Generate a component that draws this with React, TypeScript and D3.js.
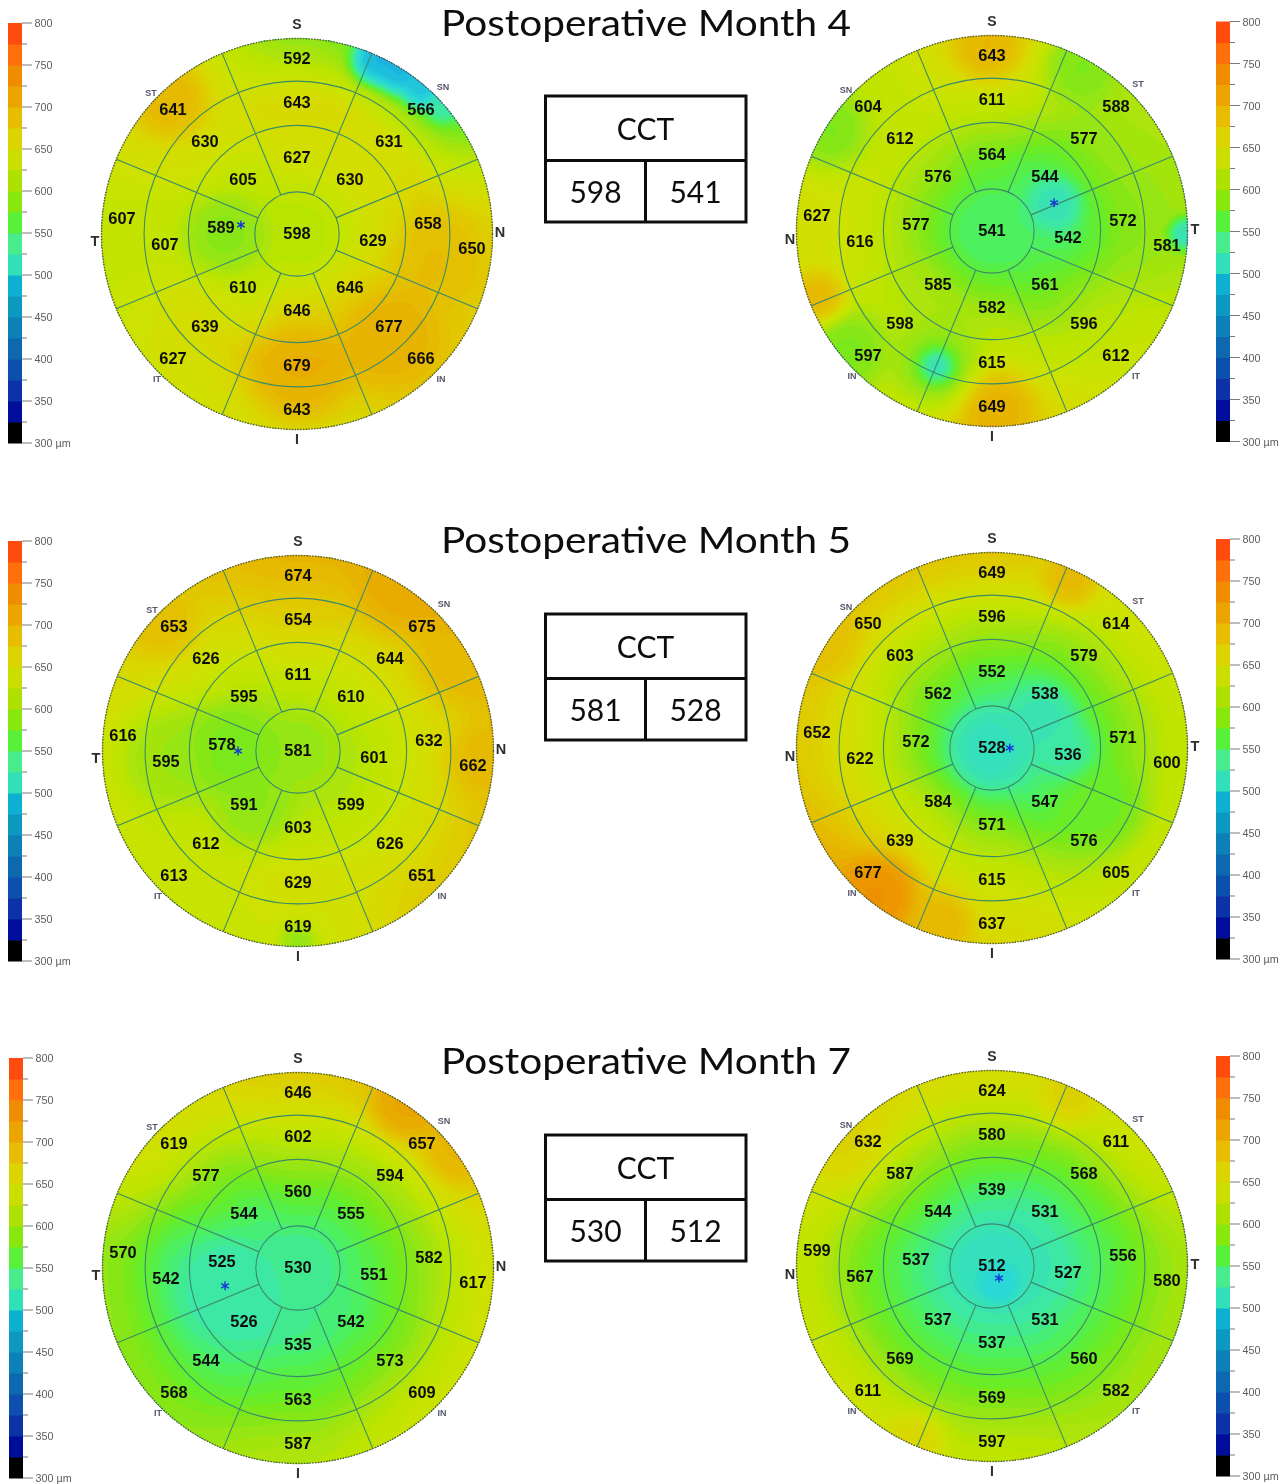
import React, { useEffect, useRef } from 'react';
import * as d3 from 'd3';

// thickness bands of the colour bar, in um
const bandStarts = d3.range(300, 800, 25);
const bandColors = [
  '#000000', '#00109a', '#0730a8', '#0850ac', '#0868b0', '#0880b8', '#0898c0', '#08b0d0', '#30e0b8', '#48ec8c',
  '#58f038', '#88e810', '#aee000', '#cade00', '#dcd400', '#e8bc00', '#eca400', '#f08c00', '#ff7010', '#ff4c10',
];
const legendTicks = d3.range(300, 801, 50);
const legendMinorTicks = d3.range(325, 800, 50);

// colours the maps themselves show for a given thickness
const mapStops = [300, 400, 470, 500, 527, 540, 556, 570, 585, 600, 620, 640, 660, 680, 700, 725, 760, 800];
const mapColors = [
  '#000000', '#0868b0', '#18a8e0', '#28d8d8', '#40e8a0', '#48f068', '#60ee30', '#80e818', '#a4e410', '#bce400',
  '#cce200', '#d8da00', '#e0ca00', '#e6b400', '#ec9c00', '#f08000', '#ff7010', '#ff4c10',
];
const mapLevels = d3.range(300, 800, 6);

// sector order, clockwise from the top of the map
const sectorAngles = d3.range(0, 360, 45);
const ringRadiiMm = [0.97, 2.5, 3.52, 4.5];
const profileRadiiMm = [0, 0.6, 1.75, 3.02, 4.03, 4.6];

const titles = ['Postoperative Month 4', 'Postoperative Month 5', 'Postoperative Month 7'];
const leftEyeCorners = ['ST', 'SN', 'IN', 'IT'];
const rightEyeCorners = ['SN', 'ST', 'IT', 'IN'];

// centre value, then the three rings clockwise from the top
const m4LeftCentre = 598;
const m4LeftRings = [
  [627, 630, 629, 646, 646, 610, 589, 605],
  [643, 631, 658, 677, 679, 639, 607, 630],
  [592, 566, 650, 666, 643, 627, 607, 641],
];
const m4RightCentre = 541;
const m4RightRings = [
  [564, 544, 542, 561, 582, 585, 577, 576],
  [611, 577, 572, 596, 615, 598, 616, 612],
  [643, 588, 581, 612, 649, 597, 627, 604],
];
const m5LeftCentre = 581;
const m5LeftRings = [
  [611, 610, 601, 599, 603, 591, 578, 595],
  [654, 644, 632, 626, 629, 612, 595, 626],
  [674, 675, 662, 651, 619, 613, 616, 653],
];
const m5RightCentre = 528;
const m5RightRings = [
  [552, 538, 536, 547, 571, 584, 572, 562],
  [596, 579, 571, 576, 615, 639, 622, 603],
  [649, 614, 600, 605, 637, 677, 652, 650],
];
const m7LeftCentre = 530;
const m7LeftRings = [
  [560, 555, 551, 542, 535, 526, 525, 544],
  [602, 594, 582, 573, 563, 544, 542, 577],
  [646, 657, 617, 609, 587, 568, 570, 619],
];
const m7RightCentre = 512;
const m7RightRings = [
  [539, 531, 527, 531, 537, 537, 537, 544],
  [580, 568, 556, 560, 569, 569, 567, 587],
  [624, 611, 580, 582, 597, 611, 599, 632],
];

// local thick / thin spots seen on each map: x mm, y mm, um, spread mm
const m4LeftSpots = [
  [1.84, -4.0, 470, 0.25], [2.37, -3.78, 470, 0.25], [2.9, -3.38, 480, 0.22], [3.36, -3.0, 520, 0.2],
  [-2.93, -3.09, 682, 0.4], [0.07, 3.25, 686, 0.5], [2.14, 2.44, 684, 0.5], [3.3, 0.6, 674, 0.5],
  [-1.66, 0.02, 572, 0.4],
];
const m4RightSpots = [
  [1.45, -0.62, 515, 0.27], [-1.27, 3.11, 450, 0.22], [-1.27, 3.11, 570, 0.45], [4.45, 0.07, 510, 0.17],
  [-0.12, -4.22, 682, 0.35], [0.12, 4.08, 686, 0.4], [-4.03, 1.54, 684, 0.3], [-3.34, 2.76, 565, 0.4],
  [-3.73, -2.3, 565, 0.4], [2.03, -3.85, 565, 0.4],
];
const m5LeftSpots = [
  [2.35, -3.71, 688, 0.45], [4.19, 0.21, 676, 0.35], [3.6, -2, 676, 0.4], [-3.1, -2.9, 672, 0.35], [0, 4.4, 575, 0.2],
  [-1.6, 0, 566, 0.5], [-1.0, 1.3, 574, 0.4], [-3.0, 0.2, 580, 0.5],
];
const m5RightSpots = [
  [0, 0, 512, 0.4], [1.17, -0.65, 518, 0.35], [1.73, 0.12, 525, 0.3], [-2.58, 3.34, 712, 0.4],
  [-1.2, 4.03, 680, 0.35], [-3.96, -2.49, 672, 0.4], [1.8, -3.87, 680, 0.3], [2.49, 1.34, 560, 0.45],
];
const m7LeftSpots = [[2.46, -3.73, 694, 0.35], [3.69, -2.72, 680, 0.35], [-1.68, 0.6, 522, 0.5]];
const m7RightSpots = [[0.16, 0.41, 498, 0.2], [1.8, -3.9, 655, 0.3], [-1.8, 4.08, 650, 0.3], [-3.4, -2.9, 650, 0.4]];

const panels = [
  { row: 0, eye: 'left', cx: 297, cy: 234, barX: 8, barY: 23, centre: m4LeftCentre, rings: m4LeftRings, spots: m4LeftSpots, thinnest: [-1.29, -0.21] },
  { row: 0, eye: 'right', cx: 992, cy: 231, barX: 1216, barY: 21.5, centre: m4RightCentre, rings: m4RightRings, spots: m4RightSpots, thinnest: [1.43, -0.65] },
  { row: 1, eye: 'left', cx: 298, cy: 751, barX: 8, barY: 541, centre: m5LeftCentre, rings: m5LeftRings, spots: m5LeftSpots, thinnest: [-1.38, 0] },
  { row: 1, eye: 'right', cx: 992, cy: 748, barX: 1216, barY: 539, centre: m5RightCentre, rings: m5RightRings, spots: m5RightSpots, thinnest: [0.41, 0] },
  { row: 2, eye: 'left', cx: 298, cy: 1268, barX: 9, barY: 1058, centre: m7LeftCentre, rings: m7LeftRings, spots: m7LeftSpots, thinnest: [-1.68, 0.41] },
  { row: 2, eye: 'right', cx: 992, cy: 1266, barX: 1216, barY: 1056, centre: m7RightCentre, rings: m7RightRings, spots: m7RightSpots, thinnest: [0.16, 0.28] },
];

// the numbers on the scan printout are not quite on the sector middles
const labelOffsets = [
  [[0, -77], [53, -55], [76, 6], [53, 53], [0, 76], [-54, 53], [-76, -7], [-54, -55]],
  [[0, -132], [92, -93], [131, -11], [92, 92], [0, 131], [-92, 92], [-132, 10], [-92, -93]],
  [[0, -176], [124, -125], [175, 14], [124, 124], [0, 175], [-124, 124], [-175, -16], [-124, -125]],
];

const tables = [
  { top: 96, values: [598, 541], titleY: 36 },
  { top: 614, values: [581, 528], titleY: 553 },
  { top: 1135, values: [530, 512], titleY: 1074 },
];

const mm = d3.scaleLinear().domain([-4.5, 4.5]).range([-195.5, 195.5]);
const bandIndex = d3.scaleThreshold<number, number>().domain(bandStarts.slice(1)).range(d3.range(bandStarts.length));
const legendY = d3.scaleLinear().domain([800, 300]).range([0, 420]);
const mapColor = d3.scaleLinear<string>().domain(mapStops).range(mapColors).clamp(true);

const polar = (angle: number, r: number) => {
  const a = (angle * Math.PI) / 180;
  return [r * Math.sin(a), -r * Math.cos(a)];
};

// value around a ring at some angle, eased between sector middles
const aroundRing = (ring: number[], deg: number) => {
  const t = (((deg % 360) + 360) % 360) / 45;
  const i = Math.floor(t) % 8;
  const f = t - Math.floor(t);
  const e = (1 - Math.cos(f * Math.PI)) / 2;
  return ring[i] * (1 - e) + ring[(i + 1) % 8] * e;
};

// thickness surface between the measured sectors, drawn as filled levels like the OCT software
const buildField = (panel: any, n: number, step: number) => {
  const field = new Float64Array(n * n);
  const [r1, r2, r3] = panel.rings;
  for (let row = 0; row < n; row++) {
    for (let col = 0; col < n; col++) {
      const x = ((col + 0.5) * step - (n * step) / 2) / 43.44;
      const y = ((row + 0.5) * step - (n * step) / 2) / 43.44;
      const r = Math.hypot(x, y);
      const deg = (Math.atan2(x, -y) * 180) / Math.PI;
      const a1 = aroundRing(r1, deg);
      const a2 = aroundRing(r2, deg);
      const a3 = aroundRing(r3, deg);
      const rimValue = a3 + (a3 - a2) * 0.35;
      const profile = d3.scaleLinear()
        .domain(profileRadiiMm)
        .range([panel.centre, panel.centre, a1, a2, a3, rimValue])
        .clamp(true);
      let sum = profile(r);
      let weight = 1;
      panel.spots.forEach(([px, py, v, s]: number[]) => {
        const d2 = (x - px) ** 2 + (y - py) ** 2;
        const w = 8 * Math.exp(-d2 / (2 * s * s));
        sum += w * v;
        weight += w;
      });
      field[row * n + col] = sum / weight;
    }
  }
  return field;
};

const drawLegend = (g: any, panel: any) => {
  const leg = g.append('g').attr('transform', `translate(${panel.barX}, ${panel.barY})`);
  const tickInk = '#7a7a7a';
  leg.selectAll('rect').data(bandStarts).enter().append('rect')
    .attr('x', 0)
    .attr('width', 14)
    .attr('y', (d: number) => legendY(d + 25))
    .attr('height', (d: number) => legendY(d) - legendY(d + 25) + 0.5)
    .attr('fill', (d: number) => bandColors[bandIndex(d)]);
  leg.selectAll('line.major').data(legendTicks).enter().append('line')
    .attr('class', 'major')
    .attr('x1', 14).attr('x2', 24)
    .attr('y1', (d: number) => legendY(d)).attr('y2', (d: number) => legendY(d))
    .attr('stroke', tickInk);
  leg.selectAll('line.minor').data(legendMinorTicks).enter().append('line')
    .attr('class', 'minor')
    .attr('x1', 14).attr('x2', 19)
    .attr('y1', (d: number) => legendY(d)).attr('y2', (d: number) => legendY(d))
    .attr('stroke', tickInk);
  leg.selectAll('text').data(legendTicks).enter().append('text')
    .attr('x', 26.5)
    .attr('y', (d: number) => legendY(d) + 4)
    .attr('font-size', 10.8)
    .attr('fill', '#5c5c5c')
    .text((d: number) => (d === 300 ? '300 µm' : d));
};

const drawMap = (g: any, panel: any, idx: number) => {
  const map = g.append('g').attr('transform', `translate(${panel.cx}, ${panel.cy})`);
  const rim = mm(ringRadiiMm[3]);
  const clipId = `rim-${idx}`;
  map.append('clipPath').attr('id', clipId).append('circle').attr('r', rim);

  const step = 2;
  const n = 200;
  const field = buildField(panel, n, step);
  const contours = d3.contours().size([n, n]).thresholds(mapLevels)(field as any);
  const path = d3.geoPath(d3.geoIdentity().scale(step).translate([(-n * step) / 2, (-n * step) / 2]) as any);
  map.append('g')
    .attr('clip-path', `url(#${clipId})`)
    .selectAll('path')
    .data(contours)
    .enter()
    .append('path')
    .attr('d', path as any)
    .attr('fill', (d: any) => mapColor(d.value + 3));

  // sector grid
  const gridInk = '#3b8a6c';
  ringRadiiMm.slice(0, 3).forEach((r) => {
    map.append('circle').attr('r', mm(r)).attr('fill', 'none').attr('stroke', gridInk).attr('stroke-width', 1.1);
  });
  sectorAngles.forEach((a) => {
    const [x1, y1] = polar(a + 22.5, mm(ringRadiiMm[0]));
    const [x2, y2] = polar(a + 22.5, rim);
    map.append('line').attr('x1', x1).attr('y1', y1).attr('x2', x2).attr('y2', y2)
      .attr('stroke', gridInk).attr('stroke-width', 1.1);
  });
  map.append('circle').attr('r', rim).attr('fill', 'none')
    .attr('stroke', '#555').attr('stroke-width', 1.4).attr('stroke-dasharray', '1.4 1.4');

  // thinnest point marker
  map.append('path')
    .attr('d', d3.symbol().type(d3.symbolAsterisk).size(55)() as string)
    .attr('transform', `translate(${mm(panel.thinnest[0])}, ${mm(panel.thinnest[1])})`)
    .attr('fill', 'none').attr('stroke', '#1636d8').attr('stroke-width', 1.4);

  const number = (x: number, y: number, v: number) => map.append('text')
    .attr('x', x).attr('y', y + 6)
    .attr('text-anchor', 'middle')
    .attr('font-size', 16.4)
    .attr('font-weight', 700)
    .attr('fill', '#111')
    .text(v);
  number(0, -1, panel.centre);
  panel.rings.forEach((ring: number[], i: number) => {
    ring.forEach((v, j) => number(labelOffsets[i][j][0], labelOffsets[i][j][1], v));
  });

  // orientation letters
  const left = panel.eye === 'left';
  const letter = (x: number, y: number, s: string, size: number, ink: string) => map.append('text')
    .attr('x', x).attr('y', y + size * 0.36)
    .attr('text-anchor', 'middle')
    .attr('font-size', size)
    .attr('font-weight', 700)
    .attr('fill', ink)
    .text(s);
  letter(0, -210, 'S', 14, '#2e2e2e');
  letter(0, 205, 'I', 14, '#2e2e2e');
  letter(-202, left ? 7 : 8, left ? 'T' : 'N', 14.5, '#2e2e2e');
  letter(203, -2, left ? 'N' : 'T', 14.5, '#2e2e2e');
  const corners = left ? leftEyeCorners : rightEyeCorners;
  letter(-146, -141, corners[0], 9, '#55556a');
  letter(146, -147, corners[1], 9, '#55556a');
  letter(144, 145, corners[2], 9, '#55556a');
  letter(-140, 145, corners[3], 9, '#55556a');
};

const drawTable = (g: any, table: any, i: number) => {
  const t = g.append('g').attr('transform', `translate(545.5, ${table.top})`);
  g.append('text')
    .attr('x', 646).attr('y', table.titleY)
    .attr('text-anchor', 'middle')
    .attr('font-family', 'Lato, sans-serif')
    .attr('font-size', 36)
    .attr('fill', '#111')
    .attr('textLength', 410)
    .attr('lengthAdjust', 'spacingAndGlyphs')
    .text(titles[i]);
  t.append('rect').attr('width', 200.5).attr('height', 126).attr('fill', '#fff').attr('stroke', '#111').attr('stroke-width', 3);
  t.append('line').attr('x1', 0).attr('x2', 200.5).attr('y1', 64.5).attr('y2', 64.5).attr('stroke', '#111').attr('stroke-width', 3);
  t.append('line').attr('x1', 100).attr('x2', 100).attr('y1', 64.5).attr('y2', 126).attr('stroke', '#111').attr('stroke-width', 3);
  const cell = (x: number, y: number, s: string | number) => t.append('text')
    .attr('x', x).attr('y', y)
    .attr('text-anchor', 'middle')
    .attr('font-family', 'Lato, sans-serif')
    .attr('font-size', 30)
    .attr('fill', '#111')
    .text(s);
  cell(100, 44, 'CCT');
  cell(50, 107, table.values[0]);
  cell(150, 107, table.values[1]);
};

const App = () => {
  const ref = useRef<SVGSVGElement>(null);

  useEffect(() => {
    const svg = d3.select(ref.current);
    svg.selectAll('*').remove();

    svg.append('defs').append('filter').attr('id', 'soft')
      .append('feGaussianBlur').attr('stdDeviation', 0.45);

    const g = svg.append('g')
      .attr('filter', 'url(#soft)')
      .attr('font-family', '"Liberation Sans", Arial, sans-serif');

    g.append('rect').attr('width', 1286).attr('height', 1484).attr('fill', '#fff');
    panels.forEach((p, i) => {
      drawLegend(g, p);
      drawMap(g, p, i);
    });
    tables.forEach((t, i) => drawTable(g, t, i));
  }, []);

  return <svg ref={ref} width={1286} height={1484} style={{ position: 'absolute', left: 0, top: 0 }} />;
};

export default App;
